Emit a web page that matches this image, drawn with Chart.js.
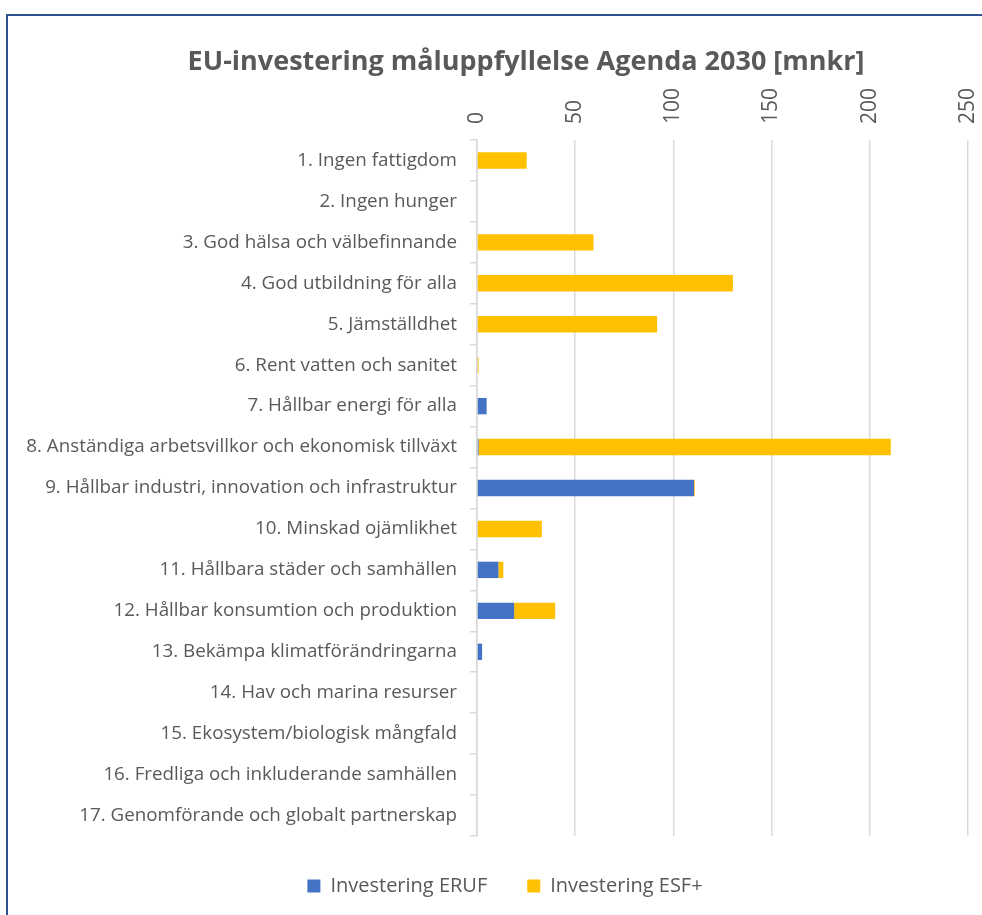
<!DOCTYPE html>
<html>
<head>
<meta charset="utf-8">
<script src="https://cdn.jsdelivr.net/npm/chart.js@4"></script>
<style>
    html, body { margin: 0; padding: 0; background: #fff; overflow: hidden; }
    body { width: 982px; height: 915px; position: relative; overflow: hidden; }
    .frame {
        position: absolute; left: 6px; top: 14px;
        width: 1100px; height: 1100px;
        border: 2px solid #2f528f;
    }
    .wrap { position: absolute; left: 0; top: 0; width: 1010px; height: 915px; }
</style>
</head>
<body>
<div class="frame"></div>
<div class="wrap"><canvas id="sdg-chart" width="1010" height="915"></canvas></div>
<script>
const goals = [
    '1. Ingen fattigdom',
    '2. Ingen hunger',
    '3. God hälsa och välbefinnande',
    '4. God utbildning för alla',
    '5. Jämställdhet',
    '6. Rent vatten och sanitet',
    '7. Hållbar energi för alla',
    '8. Anständiga arbetsvillkor och ekonomisk tillväxt',
    '9. Hållbar industri, innovation och infrastruktur',
    '10. Minskad ojämlikhet',
    '11. Hållbara städer och samhällen',
    '12. Hållbar konsumtion och produktion',
    '13. Bekämpa klimatförändringarna',
    '14. Hav och marina resurser',
    '15. Ekosystem/biologisk mångfald',
    '16. Fredliga och inkluderande samhällen',
    '17. Genomförande och globalt partnerskap'
];

const eruf = [0, 0, 0, 0, 0, 0, 4.9, 0.8, 110.5, 0, 10.9, 18.9, 2.6, 0, 0, 0, 0];
const esf = [25.3, 0, 59.3, 130.3, 91.7, 0.8, 0, 209.9, 0.4, 33, 2.5, 20.9, 0, 0, 0, 0, 0];

const axisMax = 250;
const axisStep = 50;

const grey = '#595959';
const font = '"Open Sans", sans-serif';

const ctx = document.getElementById('sdg-chart').getContext('2d');
const chart = new Chart(ctx, {
    type: 'bar',
    data: {
        labels: goals,
        datasets: [{
            label: 'Investering ERUF',
            data: eruf,
            backgroundColor: '#4472c4',
            borderWidth: 0
        }, {
            label: 'Investering ESF+',
            data: esf,
            backgroundColor: '#ffc000',
            borderWidth: 0
        }]
    },
    options: {
        indexAxis: 'y',
        responsive: false,
        animation: false,
        devicePixelRatio: 1,
        layout: {
            padding: { left: 14, right: 14, top: 46, bottom: 9 }
        },
        datasets: {
            bar: { categoryPercentage: 1, barPercentage: 0.4 }
        },
        scales: {
            x: {
                position: 'top',
                stacked: true,
                min: 0,
                max: axisMax,
                border: { display: false },
                grid: { color: '#d9d9d9', lineWidth: 1.5, tickLength: 0 },
                ticks: {
                    stepSize: axisStep,
                    minRotation: 90,
                    maxRotation: 90,
                    padding: 16,
                    labelOffset: 25,
                    color: grey,
                    font: { family: font, size: 21 }
                },
                afterFit: function (scale) {
                    scale.height = 61.6;
                }
            },
            y: {
                stacked: true,
                border: { display: true, color: '#d9d9d9', width: 1.5 },
                grid: { drawOnChartArea: false, color: '#d9d9d9', lineWidth: 1.5, tickLength: 7, offset: true },
                ticks: {
                    padding: 13,
                    autoSkip: false,
                    color: grey,
                    font: { family: font, size: 18.8 }
                },
                afterFit: function (scale) {
                    scale.width = 463;
                }
            },
            // empty space on the right, the plot ends at 250 like the original
            spacer: {
                type: 'linear',
                position: 'right',
                border: { display: false },
                grid: { display: false },
                ticks: { display: false },
                afterFit: function (scale) {
                    scale.width = 28;
                }
            }
        },
        plugins: {
            title: {
                display: true,
                text: '      EU-investering måluppfyllelse Agenda 2030 [mnkr]',
                color: grey,
                font: { family: font, size: 27, weight: 'bold' },
                padding: { top: 0, bottom: 0 }
            },
            legend: {
                position: 'bottom',
                labels: {
                    boxWidth: 13,
                    boxHeight: 13,
                    padding: 40,
                    color: grey,
                    font: { family: font, size: 20 }
                }
            },
            tooltip: { enabled: false }
        }
    }
});
</script>
</body>
</html>
